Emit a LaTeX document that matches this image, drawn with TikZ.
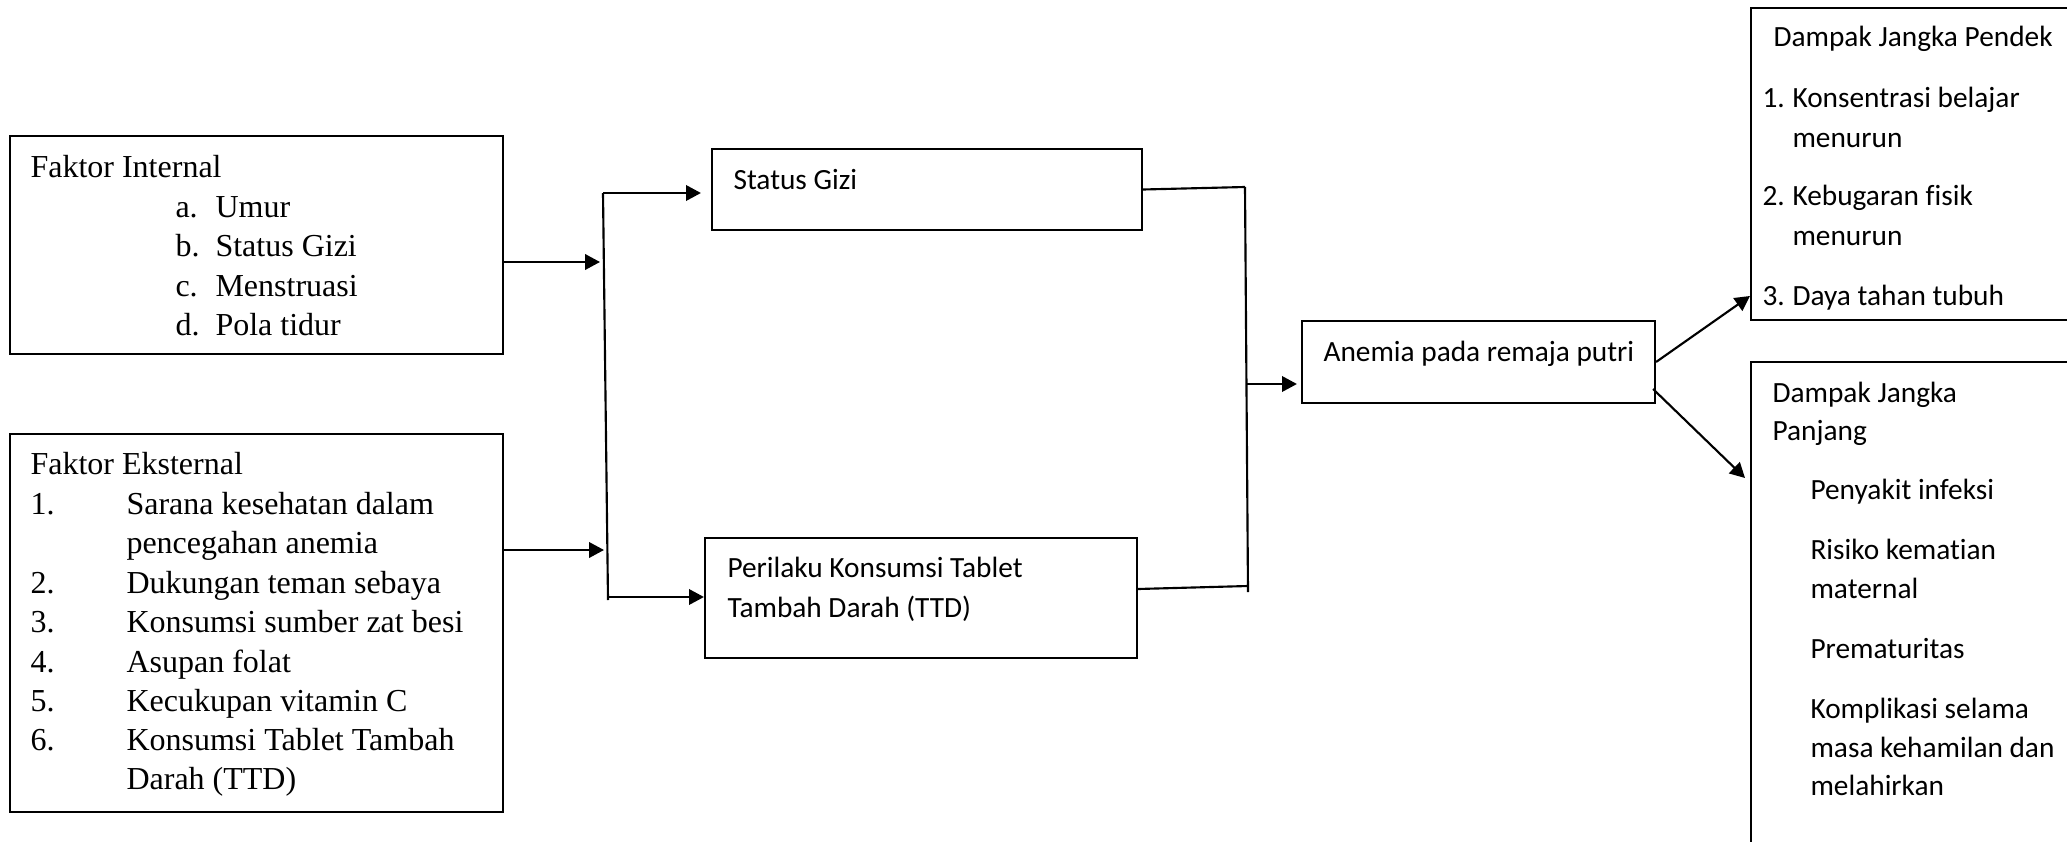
\documentclass[tikz,border=0pt]{standalone}
\usepackage{fontspec}
\setmainfont{Liberation Serif}
\newfontfamily\calibrifont[Ligatures={CommonOff}]{Carlito}
\usetikzlibrary{arrows.meta,fit}
\begin{document}
\begin{tikzpicture}[x=0.375pt,y=-0.375pt,
  box/.style={draw, line width=0.8pt, inner sep=0pt},
  ln/.style={line width=0.8pt},
  arr/.style={line width=0.8pt, -{Triangle[length=5.6pt,width=5.8pt]}},
  tr/.style={anchor=base west, inner sep=0pt, font=\fontsize{12}{14}\selectfont},
  ca/.style={anchor=base west, inner sep=0pt, font=\calibrifont\fontsize{11}{13}\selectfont}]
\useasboundingbox (0,0) rectangle (2067,842);
\clip (0,0) rectangle (2067,842);
\fill[white] (0,0) rectangle (2067,842);

% boxes
\node[box, fit={(10,136) (503,354)}] (internal) {};
\node[box, fit={(10,434) (503,812)}] (eksternal) {};
\node[box, fit={(712,149) (1142,230)}] (gizi) {};
\node[box, fit={(705,538) (1137,658)}] (ttd) {};
\node[box, fit={(1302,321) (1655,403)}] (anemia) {};
\node[box, fit={(1751,8) (2100,320)}] (pendek) {};
\node[box, fit={(1751,362) (2100,900)}] (panjang) {};

% texts: Faktor Internal
\node[tr] (i0) at (30,177) {Faktor Internal};
\node[tr] (ia) at (175,217) {a.};  \node[tr] (iat) at (215,217) {Umur};
\node[tr] (ib) at (175,256) {b.};  \node[tr] (ibt) at (215,256) {Status Gizi};
\node[tr] (ic) at (175,296) {c.};  \node[tr] (ict) at (215,296) {Menstruasi};
\node[tr] (id) at (175,335) {d.};  \node[tr] (idt) at (215,335) {Pola tidur};

% texts: Faktor Eksternal
\node[tr] (e0) at (30,474) {Faktor Eksternal};
\node[tr] (e1) at (30,514) {1.}; \node[tr] (e1t) at (126,514) {Sarana kesehatan dalam};
\node[tr] (e1u) at (126,553) {pencegahan anemia};
\node[tr] (e2) at (30,593) {2.}; \node[tr] (e2t) at (126,593) {Dukungan teman sebaya};
\node[tr] (e3) at (30,632) {3.}; \node[tr] (e3t) at (126,632) {Konsumsi sumber zat besi};
\node[tr] (e4) at (30,672) {4.}; \node[tr] (e4t) at (126,672) {Asupan folat};
\node[tr] (e5) at (30,711) {5.}; \node[tr] (e5t) at (126,711) {Kecukupan vitamin C};
\node[tr] (e6) at (30,750) {6.}; \node[tr] (e6t) at (126,750) {Konsumsi Tablet Tambah};
\node[tr] (e6u) at (126,789) {Darah (TTD)};

% middle texts
\node[ca] (gt) at (733,189) {Status Gizi};
\node[ca] (tt1) at (727,577) {Perilaku Konsumsi Tablet};
\node[ca] (tt2) at (727,617) {Tambah Darah (TTD)};
\node[ca] (at) at (1323,361) {Anemia pada remaja putri};

% Dampak Jangka Pendek
\node[ca] (p0) at (1773,46) {Dampak Jangka Pendek};
\node[ca] (p1) at (1762,107) {1.}; \node[ca] (p1t) at (1792,107) {Konsentrasi belajar};
\node[ca] (p1u) at (1792,147) {menurun};
\node[ca] (p2) at (1762,205) {2.}; \node[ca] (p2t) at (1792,205) {Kebugaran fisik};
\node[ca] (p2u) at (1792,245) {menurun};
\node[ca] (p3) at (1762,305) {3.}; \node[ca] (p3t) at (1792,305) {Daya tahan tubuh};

% Dampak Jangka Panjang
\node[ca] (q0) at (1772,402) {Dampak Jangka};
\node[ca] (q0b) at (1772,440) {Panjang};
\node[ca] (q1) at (1810,499) {Penyakit infeksi};
\node[ca] (q2) at (1810,559) {Risiko kematian};
\node[ca] (q2b) at (1810,598) {maternal};
\node[ca] (q3) at (1810,658) {Prematuritas};
\node[ca] (q4) at (1810,718) {Komplikasi selama};
\node[ca] (q4b) at (1810,757) {masa kehamilan dan};
\node[ca] (q4c) at (1810,795) {melahirkan};

% bus coordinates
\coordinate (LT) at (603,193);
\coordinate (LB) at (608,600);
\coordinate (Li) at (600,262);
\coordinate (Le) at (604,550);
\coordinate (Lt) at (607,597);
\coordinate (RT) at (1245,187);
\coordinate (RB) at (1248,592);
\coordinate (Rt) at (1248,586);
\coordinate (Ra) at (1247,384);
\coordinate (Pe) at (1750,296);
\coordinate (Pa) at (1745,478);
\coordinate (A2) at (1653,389);

% connectors
\draw[arr] (internal.east |- Li) -- (Li);
\draw[arr] (eksternal.east |- Le) -- (Le);
\draw[ln] (LT) -- (LB);
\draw[arr, shorten >=3.75pt] (LT) -- (gizi.west |- LT);
\draw[arr] (Lt) -- (ttd.west |- Lt);
\draw[ln] (gizi.east) -- (RT);
\draw[ln] (RT) -- (RB);
\draw[ln] (ttd.east |- 0,589) -- (Rt);
\draw[arr, shorten >=1.5pt] (Ra) -- (anemia.west |- Ra);
\draw[arr] (anemia.east) -- (Pe);
\draw[arr] (A2) -- (Pa);
\end{tikzpicture}
\end{document}
